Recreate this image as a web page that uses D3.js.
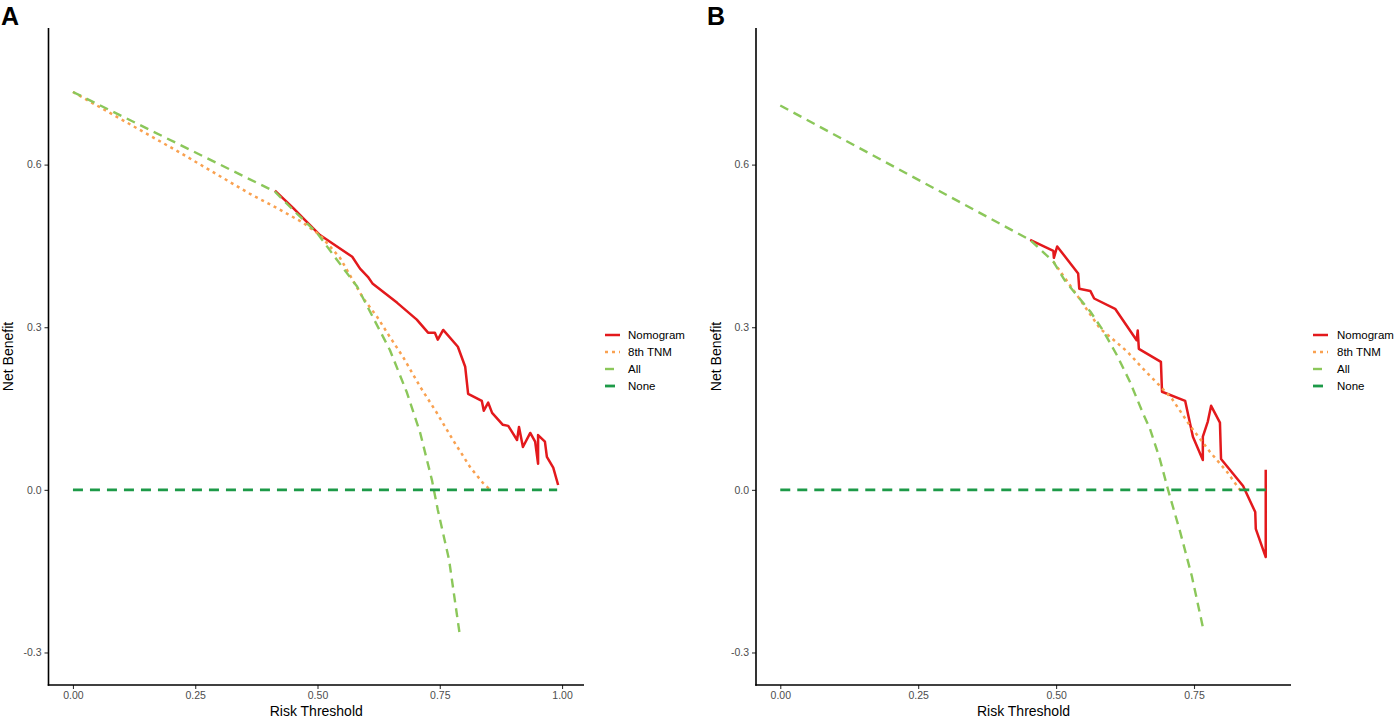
<!DOCTYPE html>
<html>
<head>
<meta charset="utf-8">
<script src="https://cdn.jsdelivr.net/npm/d3@7"></script>
<style>
  html, body { margin: 0; padding: 0; background: #ffffff; }
  svg { display: block; font-family: "Liberation Sans", Arial, sans-serif; }
</style>
</head>
<body>
<svg id="chart" width="1395" height="718"></svg>
<script>
// ---------------- DATA ----------------
const seriesNames = ["Nomogram", "8th TNM", "All", "None"];
const yTickValues = [-0.3, 0.0, 0.3, 0.6];
const yTickLabels = ["-0.3", "0.0", "0.3", "0.6"];
const xTickValuesA = [0, 0.25, 0.5, 0.75, 1.0];
const xTickLabelsA = ["0.00", "0.25", "0.50", "0.75", "1.00"];
const xTickValuesB = [0, 0.25, 0.5, 0.75];
const xTickLabelsB = ["0.00", "0.25", "0.50", "0.75"];

// Panel A
const nomoA_t  = [0.413,0.450,0.474,0.505,0.571,0.587,0.603,0.613,0.663,0.703,0.726,0.740,0.746,0.757,0.787,0.802,0.808,0.836,0.840,0.849,0.857,0.879,0.890,0.908,0.912,0.920,0.935,0.945,0.951,0.951,0.965,0.969,0.982,0.992];
const nomoA_nb = [0.552,0.520,0.498,0.470,0.430,0.408,0.393,0.380,0.345,0.314,0.290,0.290,0.277,0.295,0.264,0.227,0.177,0.164,0.146,0.161,0.142,0.120,0.118,0.092,0.116,0.079,0.105,0.089,0.048,0.101,0.089,0.061,0.041,0.009];
const tnmA_t   = [0,0.219,0.362,0.417,0.470,0.505,0.546,0.593,0.622,0.648,0.675,0.710,0.744,0.777,0.812,0.838,0.853];
const tnmA_nb  = [0.734,0.622,0.546,0.520,0.493,0.470,0.428,0.354,0.319,0.282,0.245,0.190,0.142,0.092,0.042,0.013,0.000];
const allA_t   = [0,0.413,0.455,0.499,0.540,0.581,0.613,0.648,0.683,0.710,0.734,0.746,0.769,0.791];
const allA_nb  = [0.734,0.550,0.512,0.474,0.424,0.375,0.319,0.258,0.179,0.105,0.018,-0.037,-0.129,-0.268];
const noneA_t  = [0,0.99];
const noneA_nb = [0,0];

// Panel B
const nomoB_t  = [0.453,0.495,0.496,0.502,0.540,0.542,0.562,0.569,0.607,0.646,0.648,0.650,0.690,0.692,0.734,0.748,0.766,0.766,0.775,0.781,0.797,0.799,0.839,0.861,0.862,0.880,0.880];
const nomoB_nb = [0.461,0.441,0.428,0.449,0.399,0.371,0.367,0.353,0.334,0.276,0.294,0.260,0.236,0.181,0.164,0.098,0.055,0.098,0.126,0.155,0.124,0.057,0.007,-0.041,-0.072,-0.124,0.037];
const tnmB_t   = [0.495,0.540,0.580,0.598,0.629,0.658,0.688,0.710,0.743,0.779,0.810,0.833];
const tnmB_nb  = [0.421,0.356,0.297,0.282,0.255,0.223,0.192,0.168,0.118,0.070,0.033,0.000];
const allB_t   = [0,0.453,0.495,0.516,0.540,0.562,0.585,0.611,0.634,0.658,0.670,0.688,0.703,0.725,0.746,0.766];
const allB_nb  = [0.709,0.461,0.421,0.386,0.356,0.329,0.294,0.247,0.199,0.140,0.113,0.057,0.000,-0.078,-0.159,-0.253];
const noneB_t  = [0,0.88];
const noneB_nb = [0,0];

// ---------------- STYLES ----------------
const styles = {
  "Nomogram": { color: "#E3191C", width: 2.5, dash: null },
  "8th TNM":  { color: "#F9A150", width: 2.5, dash: "3,4" },
  "All":      { color: "#8BC75A", width: 2.4, dash: "9,6" },
  "None":     { color: "#1D9A48", width: 2.8, dash: "10,7" }
};

const svg = d3.select("#chart");

function zip(t, nb) { return t.map((v, i) => ({ t: v, nb: nb[i] })); }

const panels = [
  {
    label: "A", labelX: 1, xDomain: [-0.05, 1.05], xRange: [48.5, 586.5],
    xTicks: xTickValuesA, xLabels: xTickLabelsA, axisRight: 584,
    legendKeyX: 605, legendTextX: 628, yTitleX: 13,
    series: [zip(nomoA_t, nomoA_nb), zip(tnmA_t, tnmA_nb), zip(allA_t, allA_nb), zip(noneA_t, noneA_nb)]
  },
  {
    label: "B", labelX: 707, xDomain: [-0.044, 0.924], xRange: [756, 1290],
    xTicks: xTickValuesB, xLabels: xTickLabelsB, axisRight: 1291,
    legendKeyX: 1313, legendTextX: 1337, yTitleX: 721,
    series: [zip(nomoB_t, nomoB_nb), zip(tnmB_t, tnmB_nb), zip(allB_t, allB_nb), zip(noneB_t, noneB_nb)]
  }
];

const yTop = 28, yBottom = 685;

panels.forEach(p => {
  const x = d3.scaleLinear().domain(p.xDomain).range(p.xRange);
  const y = d3.scaleLinear().domain([-0.36, 0.852]).range([yBottom, yTop]);
  const g = svg.append("g");
  const x0 = p.xRange[0];

  // series lines
  const line = d3.line().x(d => x(d.t)).y(d => y(d.nb));
  p.series.forEach((data, i) => {
    const st = styles[seriesNames[i]];
    g.append("path")
      .datum(data)
      .attr("d", line)
      .attr("fill", "none")
      .attr("stroke", st.color)
      .attr("stroke-width", st.width)
      .attr("stroke-linejoin", "round")
      .attr("stroke-dasharray", st.dash);
  });

  // y axis
  const yAxis = d3.axisLeft(y).tickValues(yTickValues)
    .tickFormat((d, i) => yTickLabels[i]).tickSize(4).tickPadding(3);
  const yg = g.append("g").attr("transform", `translate(${x0},0)`).call(yAxis);
  yg.select(".domain").remove();
  yg.selectAll(".tick line").attr("stroke", "#333").attr("stroke-width", 1.1);
  yg.selectAll(".tick text").attr("fill", "#4D4D4D").style("font-size", "10.5px")
    .style("font-family", "'Liberation Sans', Arial, sans-serif");

  // x axis
  const xAxis = d3.axisBottom(x).tickValues(p.xTicks)
    .tickFormat((d, i) => p.xLabels[i]).tickSize(4).tickPadding(3);
  const xg = g.append("g").attr("transform", `translate(0,${yBottom})`).call(xAxis);
  xg.select(".domain").remove();
  xg.selectAll(".tick line").attr("stroke", "#333").attr("stroke-width", 1.1);
  xg.selectAll(".tick text").attr("fill", "#4D4D4D").style("font-size", "10.5px")
    .style("font-family", "'Liberation Sans', Arial, sans-serif");

  // axis lines
  g.append("line").attr("x1", x0).attr("x2", x0).attr("y1", yTop).attr("y2", yBottom + 0.75)
    .attr("stroke", "#000").attr("stroke-width", 1.6);
  g.append("line").attr("x1", x0 - 0.75).attr("x2", p.axisRight).attr("y1", yBottom).attr("y2", yBottom)
    .attr("stroke", "#000").attr("stroke-width", 1.6);

  // axis titles
  g.append("text").attr("x", (x0 + p.axisRight) / 2).attr("y", 716)
    .attr("text-anchor", "middle").style("font-size", "14px").attr("fill", "#000")
    .text("Risk Threshold");
  g.append("text").attr("transform", `translate(${p.yTitleX},${(yTop + yBottom) / 2}) rotate(-90)`)
    .attr("text-anchor", "middle").style("font-size", "14px").attr("fill", "#000")
    .text("Net Benefit");

  // panel label
  svg.append("text").attr("x", p.labelX).attr("y", 25)
    .style("font-size", "25px").style("font-weight", "bold").attr("fill", "#000")
    .text(p.label);

  // legend
  const legendY0 = 335, legendStep = 17;
  seriesNames.forEach((name, i) => {
    const st = styles[name];
    const ly = legendY0 + i * legendStep;
    g.append("line").attr("x1", p.legendKeyX).attr("x2", p.legendKeyX + 15)
      .attr("y1", ly).attr("y2", ly)
      .attr("stroke", st.color).attr("stroke-width", st.width)
      .attr("stroke-dasharray", st.dash);
    g.append("text").attr("x", p.legendTextX).attr("y", ly + 4)
      .style("font-size", "11.5px").attr("fill", "#000").text(name);
  });
});
</script>
</body>
</html>
